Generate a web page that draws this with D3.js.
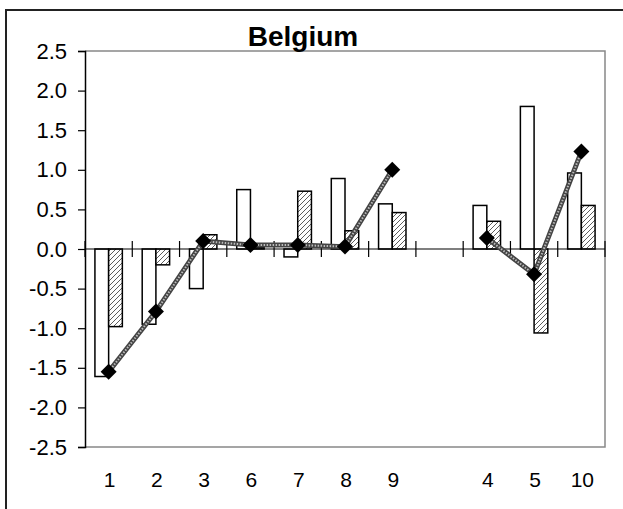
<!DOCTYPE html>
<html><head><meta charset="utf-8">
<script src="https://cdn.jsdelivr.net/npm/d3@7"></script>
<style>body{margin:0;background:#fff;} svg{display:block;font-family:"Liberation Sans",Arial,sans-serif;}</style>
</head><body><svg id="c" width="623" height="509"></svg>
<script>
const categories = ["1","2","3","6","7","8","9","","4","5","10"];
const seriesA = [-1.61,-0.95,-0.50,0.75,-0.10,0.89,0.57,null,0.55,1.80,0.96];
const seriesB = [-0.98,-0.20,0.18,0.02,0.73,0.23,0.46,null,0.35,-1.06,0.55];
const lineValues = [-1.55,-0.79,0.10,0.05,0.05,0.03,1.00,null,0.14,-0.32,1.23];
const yTicks = [2.5,2.0,1.5,1.0,0.5,0.0,-0.5,-1.0,-1.5,-2.0,-2.5];
const title = "Belgium";

const svg = d3.select("#c");
const L = 85, R = 605, T = 51, B = 447;

// outer frame
svg.append("rect").attr("x",6).attr("y",10).attr("width",700).attr("height",600)
  .attr("fill","none").attr("stroke","#222").attr("stroke-width",2);

const defs = svg.append("defs");
const pat = defs.append("pattern").attr("id","hatch").attr("patternUnits","userSpaceOnUse")
  .attr("width",5).attr("height",5);
pat.append("rect").attr("width",5).attr("height",5).attr("fill","#fff");
pat.append("path").attr("d","M-1,1 l2,-2 M0,5 l5,-5 M4,6 l2,-2")
  .attr("stroke","#333").attr("stroke-width",0.8);

const x = d3.scaleBand().domain(d3.range(categories.length)).range([L,R]);
const y = d3.scaleLinear().domain([-2.5,2.5]).range([B,T]);
const bw = x.bandwidth()*0.29;
const cx = i => x(i) + x.bandwidth()/2;

// plot frame (gray top/right/bottom)
svg.append("path").attr("d",`M${L},${T}H${R}V${B}H${L}`).attr("fill","none")
  .attr("stroke","#888").attr("stroke-width",1.5);

// y axis
const ya = svg.append("g").attr("transform",`translate(${L},0)`)
  .call(d3.axisLeft(y).tickValues(yTicks).tickSize(7).tickPadding(11).tickFormat(d=>d.toFixed(1)));
ya.select(".domain").attr("stroke","#000").attr("stroke-width",1.5);
ya.selectAll(".tick line").attr("stroke","#000").attr("stroke-width",1.2);
ya.selectAll("text").attr("font-size",22).attr("fill","#000").attr("font-family","Liberation Sans, Arial, sans-serif");

// bars
const idx = d3.range(categories.length);
svg.append("g").selectAll("rect").data(idx.filter(i=>seriesA[i]!=null)).join("rect")
  .attr("x",i=>cx(i)-bw).attr("width",bw)
  .attr("y",i=>y(Math.max(0,seriesA[i]))).attr("height",i=>Math.abs(y(seriesA[i])-y(0)))
  .attr("fill","#fff").attr("stroke","#000").attr("stroke-width",1.5);
svg.append("g").selectAll("rect").data(idx.filter(i=>seriesB[i]!=null)).join("rect")
  .attr("x",i=>cx(i)).attr("width",bw)
  .attr("y",i=>y(Math.max(0,seriesB[i]))).attr("height",i=>Math.abs(y(seriesB[i])-y(0)))
  .attr("fill","url(#hatch)").attr("stroke","#000").attr("stroke-width",1.5);

// category axis at zero
const y0 = y(0);
svg.append("line").attr("x1",L).attr("x2",R).attr("y1",y0).attr("y2",y0)
  .attr("stroke","#000").attr("stroke-width",1.2);
svg.append("g").selectAll("line").data(d3.range(categories.length+1)).join("line")
  .attr("x1",i=>L+i*x.step()).attr("x2",i=>L+i*x.step())
  .attr("y1",y0-8).attr("y2",y0+8).attr("stroke","#000").attr("stroke-width",1.2);

// line series
const line = d3.line().defined(i=>lineValues[i]!=null).x(i=>cx(i)).y(i=>y(lineValues[i]));
svg.append("path").attr("d",line(idx)).attr("fill","none").attr("stroke","#444").attr("stroke-width",5);
svg.append("path").attr("d",line(idx)).attr("fill","none").attr("stroke","#bbb").attr("stroke-width",2)
  .attr("stroke-dasharray","1.5,1.5");
const r = 8;
svg.append("g").selectAll("path").data(idx.filter(i=>lineValues[i]!=null)).join("path")
  .attr("d",i=>{const px=cx(i),py=y(lineValues[i]);return `M${px},${py-r}L${px+r},${py}L${px},${py+r}L${px-r},${py}Z`;})
  .attr("fill","#000");

// category labels
svg.append("g").selectAll("text").data(idx).join("text")
  .attr("x",i=>cx(i)+1).attr("y",487).attr("text-anchor","middle")
  .attr("font-size",21).attr("fill","#000").text(i=>categories[i]);

// title
svg.append("text").attr("x",303).attr("y",46).attr("text-anchor","middle")
  .attr("font-size",28).attr("font-weight","bold").attr("fill","#000").text(title);
</script></body></html>
